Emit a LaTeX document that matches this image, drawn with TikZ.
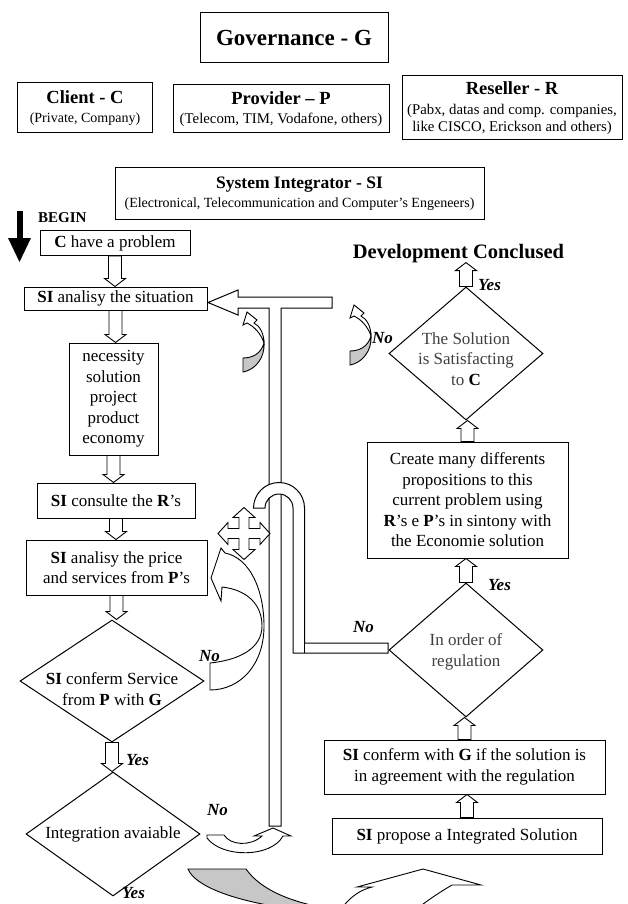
\documentclass[tikz,border=0pt]{standalone}
\usepackage{fontspec}
\setmainfont{Liberation Serif}
\usetikzlibrary{shapes.geometric,calc}

\newcommand\fsz[2]{\fontsize{#1}{#2}\selectfont}

% hollow block arrow pointing down from anchor #1 to anchor #2
\newcommand\arrdown[2]{\path[blockarr] let \p1=(#1), \p2=(#2) in
  (\x1-6.5pt,\y1) -- (\x1-6.5pt,\y2+8pt) -- (\x1-10.5pt,\y2+8pt) -- (\x1,\y2)
  -- (\x1+10.5pt,\y2+8pt) -- (\x1+6.5pt,\y2+8pt) -- (\x1+6.5pt,\y1) -- cycle;}
% hollow block arrow pointing up from anchor #1 to anchor #2
\newcommand\arrup[2]{\path[blockarr] let \p1=(#1), \p2=(#2) in
  (\x1-6.5pt,\y1) -- (\x1-6.5pt,\y2-8pt) -- (\x1-10.5pt,\y2-8pt) -- (\x1,\y2)
  -- (\x1+10.5pt,\y2-8pt) -- (\x1+6.5pt,\y2-8pt) -- (\x1+6.5pt,\y1) -- cycle;}

\tikzset{
  frame/.style={draw, line width=1pt, fill=white, inner sep=0pt, align=center},
  flow/.style={font=\fsz{17}{20.5}},
  head/.style={font=\fsz{14}{16}},
  dia/.style={draw, line width=1pt, shape=diamond, inner sep=0pt, fill=white},
  blockarr/.style={draw, line width=0.9pt, fill=white, line join=miter},
  shade/.style={draw, line width=0.9pt, fill=black!22},
  pipe/.style={draw, line width=1pt, fill=white, line join=miter},
  tag/.style={font=\fsz{17}{20}\bfseries\itshape, inner sep=0pt},
  swirl/.pic={
    \filldraw[shade] (0,46) .. controls (9,46) and (18,42) .. (21,31)
      .. controls (22,46) and (12,58) .. (0,60) -- cycle;
    \filldraw[blockarr] (21,31) .. controls (21,22) and (17,14) .. (11,11)
      -- (14,8) -- (4,0) -- (0,13) -- (4,11)
      .. controls (12,15) and (18,22) .. (21,31) -- cycle;
  },
}

\begin{document}
\begin{tikzpicture}[x=1pt,y=-1pt]
\useasboundingbox (0,0) rectangle (627,904);

% ---------- actors ----------
\node[frame, minimum width=188pt, minimum height=50pt, font=\fsz{23}{26}\bfseries] (gov) at (294,38) {Governance - G};
\node[frame, head, minimum width=135pt, minimum height=50pt] (cli) at (85,108)
  {{\bfseries\fsz{18.5}{21}Client - C}\\[3pt](Private, Company)};
\node[frame, font=\fsz{14.8}{16.5}, minimum width=216pt, minimum height=48pt] (prov) at (281,109)
  {{\bfseries\fsz{18.5}{21}Provider – P}\\[3pt](Telecom, TIM, Vodafone, others)};
\node[frame, font=\fsz{14.8}{17}, minimum width=220pt, minimum height=64pt] (res) at (512,108)
  {{\bfseries\fsz{18.5}{21}Reseller - R}\\[3pt](Pabx, datas and comp. companies,\\like CISCO, Erickson and others)};
\node[frame, head, minimum width=369pt, minimum height=51pt] (si) at (299.5,193.5)
  {{\bfseries\fsz{17.5}{20}System Integrator - SI}\\[3pt](Electronical, Telecommunication and Computer’s Engeneers)};

% ---------- start marker ----------
\node[font=\fsz{15}{18}\bfseries, anchor=base west, inner sep=0pt] (begin) at (38,222) {BEGIN};
\fill (16.5,211) rectangle (22.5,240);
\fill (8,238) -- (31,238) -- (19.5,262) -- cycle;

% ---------- left column ----------
\node[frame, flow, minimum width=150pt, minimum height=25pt] (cprob) at (115,243) {\textbf{C} have a problem};
\node[frame, flow, minimum width=183pt, minimum height=23pt] (sit) at (115.5,298.5) {\textbf{SI} analisy the situation};
\node[frame, flow, minimum width=89pt, minimum height=112pt] (nec) at (113.5,399) {necessity\\solution\\project\\product\\economy};
\node[frame, flow, minimum width=158pt, minimum height=35pt] (cons) at (116,500.5) {\textbf{SI} consulte the \textbf{R}’s};
\node[frame, flow, minimum width=181pt, minimum height=55pt] (price) at (116.5,567.5) {\textbf{SI} analisy the price\\and services from \textbf{P}’s};
\node[dia, minimum width=184pt, minimum height=122pt] (d1) at (112,681) {};
\node[flow, align=center, inner sep=0pt] (d1t) at (112,689) {\textbf{SI} conferm Service\\from \textbf{P} with \textbf{G}};
\node[dia, minimum width=174pt, minimum height=124pt] (d2) at (113,834) {};
\node[flow, inner sep=0pt] (d2t) at (113,834) {Integration avaiable};

\arrdown{cprob.south}{sit.north}
\arrdown{sit.south}{nec.north}
\arrdown{nec.south}{cons.north}
\arrdown{cons.south}{price.north}
\arrdown{price.south}{d1.north}
\arrdown{d1.south}{d2.north}

\node[tag, anchor=west] (y1) at (126,760) {Yes};
\node[tag, anchor=west] (n1) at (199,656) {No};
\node[tag, anchor=west] (n2) at (207,810) {No};
\node[tag, anchor=west] (y2) at (122,893) {Yes};

% ---------- right column ----------
\node[font=\fsz{20.5}{24}\bfseries, inner sep=0pt, anchor=base] (devc) at (458.5,258) {Development Conclused};
\node[dia, minimum width=154pt, minimum height=133pt] (d3) at (466,353.5) {};
\node[flow, align=center, inner sep=0pt, text=black!75] (d3t) at (466,359) {The Solution\\is Satisfacting\\to \textbf{\color{black}C}};
\node[frame, flow, minimum width=201pt, minimum height=116pt] (create) at (467.5,500)
  {Create many differents\\propositions to this\\current problem using\\\textbf{R}’s e \textbf{P}’s in sintony with\\the Economie solution};
\node[dia, minimum width=154pt, minimum height=134pt] (d4) at (466,650) {};
\node[flow, align=center, inner sep=0pt, text=black!75] (d4t) at (466,652) {In order of\\regulation};
\node[frame, flow, minimum width=281pt, minimum height=54pt] (conf) at (464.5,767)
  {\textbf{SI} conferm with \textbf{G} if the solution is\\in agreement with the regulation};
\node[frame, flow, minimum width=270pt, minimum height=36pt] (prop) at (467,836) {\textbf{SI} propose a Integrated Solution};

\arrup{d3.north}{devc.south}
\arrup{create.north}{d3.south}
\arrup{d4.north}{create.south}
\arrup{conf.north}{d4.south}
\arrup{prop.north}{conf.south}

\node[tag, anchor=west] (y3) at (478,285) {Yes};
\node[tag, anchor=west] (n3) at (372,338) {No};
\node[tag, anchor=west] (y4) at (488,585) {Yes};
\node[tag, anchor=west] (n4) at (353,627) {No};

% ---------- return pipe (T with arrow head) ----------
\draw[pipe] (332,297) -- (238,297) -- (238,290) -- (208,302.5) -- (238,315) -- (238,308)
  -- (269,308) -- (269,826) -- (281,826) -- (281,308) -- (332,308) -- cycle;

% ---------- pipe from the regulation check, bridging the return pipe ----------
\draw[pipe] (388,653) -- (293,653) -- (293,508) arc[start angle=0, end angle=-180, radius=14]
  -- (253.5,508) arc[start angle=-180, end angle=0, radius=25.5]
  -- (304.5,643) -- (388,643) -- cycle;
\draw[line width=1pt] (304.5,643) -- (304.5,653);

% ---------- four-way arrow ----------
\begin{scope}[shift={(244,533.5)}]
\draw[blockarr] (5,-5) -- (16,-5) -- (16,-11) -- (26,0) -- (16,11) -- (16,5) -- (5,5)
  -- (5,16) -- (11,16) -- (0,26) -- (-11,16) -- (-5,16) -- (-5,5)
  -- (-16,5) -- (-16,11) -- (-26,0) -- (-16,-11) -- (-16,-5) -- (-5,-5)
  -- (-5,-16) -- (-11,-16) -- (0,-26) -- (11,-16) -- (5,-16) -- cycle;
\end{scope}

% ---------- small turning arrows ----------
\pic at (243,312) {swirl};
\pic at (350,305) {swirl};

% ---------- large curved "No" arrow back to the price analysis ----------
\draw[blockarr] (210,690) -- (210,663) .. controls (240,660) and (262,648) .. (262,626)
  .. controls (262,605) and (248,590) .. (222,587) -- (221,601) -- (211,578) -- (221,548)
  -- (225,553) .. controls (250,558) and (264,590) .. (264,626)
  .. controls (264,665) and (240,690) .. (210,690) -- cycle;

% ---------- U-turn arrow after "Integration avaiable" ----------
\draw[blockarr] (207,835) -- (224,835) .. controls (230,845) and (250,847) .. (262,836)
  -- (254,836) -- (273,828) -- (291,836) -- (283,836)
  .. controls (271,858) and (222,858) .. (207,838) -- cycle;

% ---------- sweeping arrow along the bottom ----------
\begin{scope}
\clip (0,0) rectangle (627,904);
\filldraw[shade] (188,869) -- (246,869) .. controls (258,886) and (282,900) .. (325,908)
  -- (285,908) .. controls (232,900) and (195,886) .. (188,869) -- cycle;
\draw[blockarr] (342,908) .. controls (350,897) and (360,890) .. (372,887) -- (357,887)
  -- (423,869) -- (481,885) -- (452,885) .. controls (440,892) and (428,900) .. (418,908) -- cycle;
\end{scope}
\end{tikzpicture}
\end{document}
